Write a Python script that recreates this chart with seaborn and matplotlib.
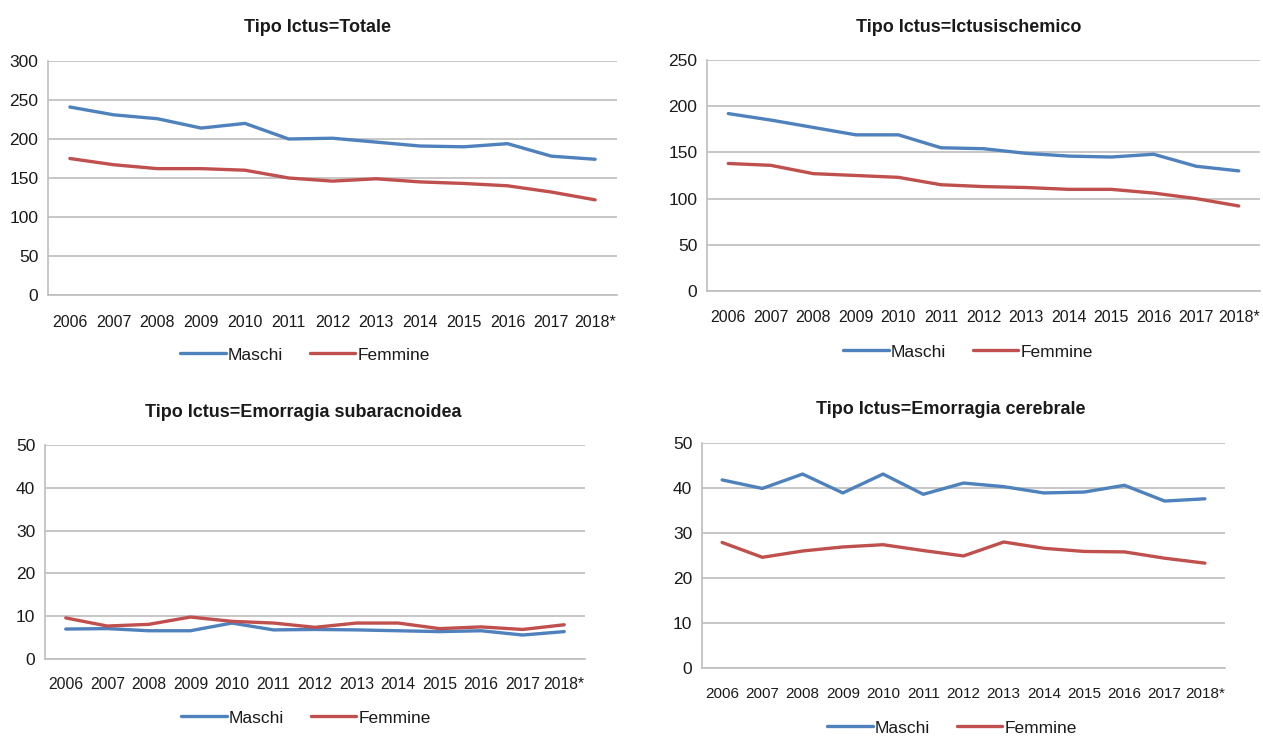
import matplotlib
matplotlib.use("Agg")
import matplotlib.pyplot as plt
from matplotlib.ticker import FixedLocator
import seaborn as sns
import pandas as pd

years = ["2006", "2007", "2008", "2009", "2010", "2011", "2012",
         "2013", "2014", "2015", "2016", "2017", "2018*"]

titles = ["Tipo Ictus=Totale", "Tipo Ictus=Ictusischemico",
          "Tipo Ictus=Emorragia subaracnoidea", "Tipo Ictus=Emorragia cerebrale"]

totale_m = [241, 231, 226, 214, 220, 200, 201, 196, 191, 190, 194, 178, 174]
totale_f = [175, 167, 162, 162, 160, 150, 146, 149, 145, 143, 140, 132, 122]
ischem_m = [192, 185, 177, 169, 169, 155, 154, 149, 146, 145, 148, 135, 130]
ischem_f = [138, 136, 127, 125, 123, 115, 113, 112, 110, 110, 106, 100, 92]
subar_m = [7.0, 7.1, 6.6, 6.6, 8.4, 6.8, 6.9, 6.8, 6.6, 6.4, 6.6, 5.6, 6.4]
subar_f = [9.6, 7.7, 8.1, 9.8, 8.8, 8.4, 7.4, 8.4, 8.4, 7.1, 7.5, 6.9, 8.0]
cereb_m = [41.8, 39.9, 43.1, 38.9, 43.1, 38.6, 41.1, 40.3, 38.9, 39.1, 40.6, 37.1, 37.6]
cereb_f = [27.9, 24.6, 26.0, 26.9, 27.4, 26.1, 24.9, 28.0, 26.6, 25.9, 25.8, 24.4, 23.3]

y_ticks = [[0, 50, 100, 150, 200, 250, 300],
           [0, 50, 100, 150, 200, 250],
           [0, 10, 20, 30, 40, 50],
           [0, 10, 20, 30, 40, 50]]

series = [(totale_m, totale_f), (ischem_m, ischem_f),
          (subar_m, subar_f), (cereb_m, cereb_f)]

sexes = ["Maschi", "Femmine"]
palette = {"Maschi": "#4F81BD", "Femmine": "#C0504D"}

sns.set_theme(style="white")
plt.rcParams["font.family"] = ["Liberation Sans", "DejaVu Sans"]

W, H = 1263, 736
fig = plt.figure(figsize=(W / 100, H / 100), dpi=100)
fig.patch.set_facecolor("white")

# pixel layout: (left, right, top, bottom, title_x, title_y, label_offset, legend_x, legend_y)
layout = [
    (48, 617, 61, 295, 317, 28, 18, 305, 355),
    (707, 1260, 60, 291, 969, 28, 17, 968, 352),
    (45, 585, 445, 659, 303, 412, 16, 306, 718),
    (702, 1225, 443, 668, 951, 410, 17, 952, 728),
]

tick_fs = [11.5, 11.5, 11.3, 11.0]

grid_c = "#BEBEBE"
text_c = "#1A1A1A"

for i, (l, r, t, b, tx, ty, loff, lx, ly) in enumerate(layout):
    ax = fig.add_axes([l / W, 1 - b / H, (r - l) / W, (b - t) / H])
    m, f = series[i]
    df = pd.DataFrame({
        "Anno": years * 2,
        "Valore": list(m) + list(f),
        "Sesso": ["Maschi"] * len(years) + ["Femmine"] * len(years),
    })
    sns.lineplot(data=df, x="Anno", y="Valore", hue="Sesso", hue_order=sexes,
                 palette=palette, linewidth=2.4, ax=ax, sort=False,
                 solid_joinstyle="round", solid_capstyle="round")
    ax.set_xlim(-0.5, len(years) - 0.5)
    yt = y_ticks[i]
    ax.set_ylim(yt[0], yt[-1])
    ax.set_yticks(yt)
    ax.set_yticklabels([str(v) for v in yt])
    ax.set_xticks(range(len(years)))
    ax.set_xticklabels(years)
    ax.xaxis.set_minor_locator(FixedLocator([k - 0.5 for k in range(len(years) + 1)]))
    ax.tick_params(axis="x", which="major", length=0, pad=loff * 0.8,
                   labelsize=tick_fs[i], colors=text_c)
    ax.tick_params(axis="x", which="minor", length=5, width=1, color=grid_c, direction="out")
    ax.tick_params(axis="y", which="major", length=5, width=1, color=grid_c,
                   direction="out", pad=2, labelsize=12.5, labelcolor=text_c)
    ax.grid(axis="y", color=grid_c, linewidth=1.2)
    ax.grid(axis="x", visible=False)
    ax.set_axisbelow(True)
    for s in ["top", "right"]:
        ax.spines[s].set_visible(False)
    for s in ["left", "bottom"]:
        ax.spines[s].set_color(grid_c)
        ax.spines[s].set_linewidth(1.2)
    ax.set_xlabel("")
    ax.set_ylabel("")
    ax.set_facecolor("white")
    handles, labels = ax.get_legend_handles_labels()
    ax.legend_.remove()
    fig.legend(handles, labels, loc="center", bbox_to_anchor=(lx / W, 1 - ly / H),
               ncol=2, frameon=False, fontsize=12.5, handlelength=2.6,
               handletextpad=0.1, columnspacing=1.6, labelcolor=text_c)
    fig.text(tx / W, 1 - ty / H, titles[i], ha="center", va="center",
             fontsize=13, fontweight="bold", color=text_c)

fig.savefig("out.png", dpi=100, facecolor="white")
